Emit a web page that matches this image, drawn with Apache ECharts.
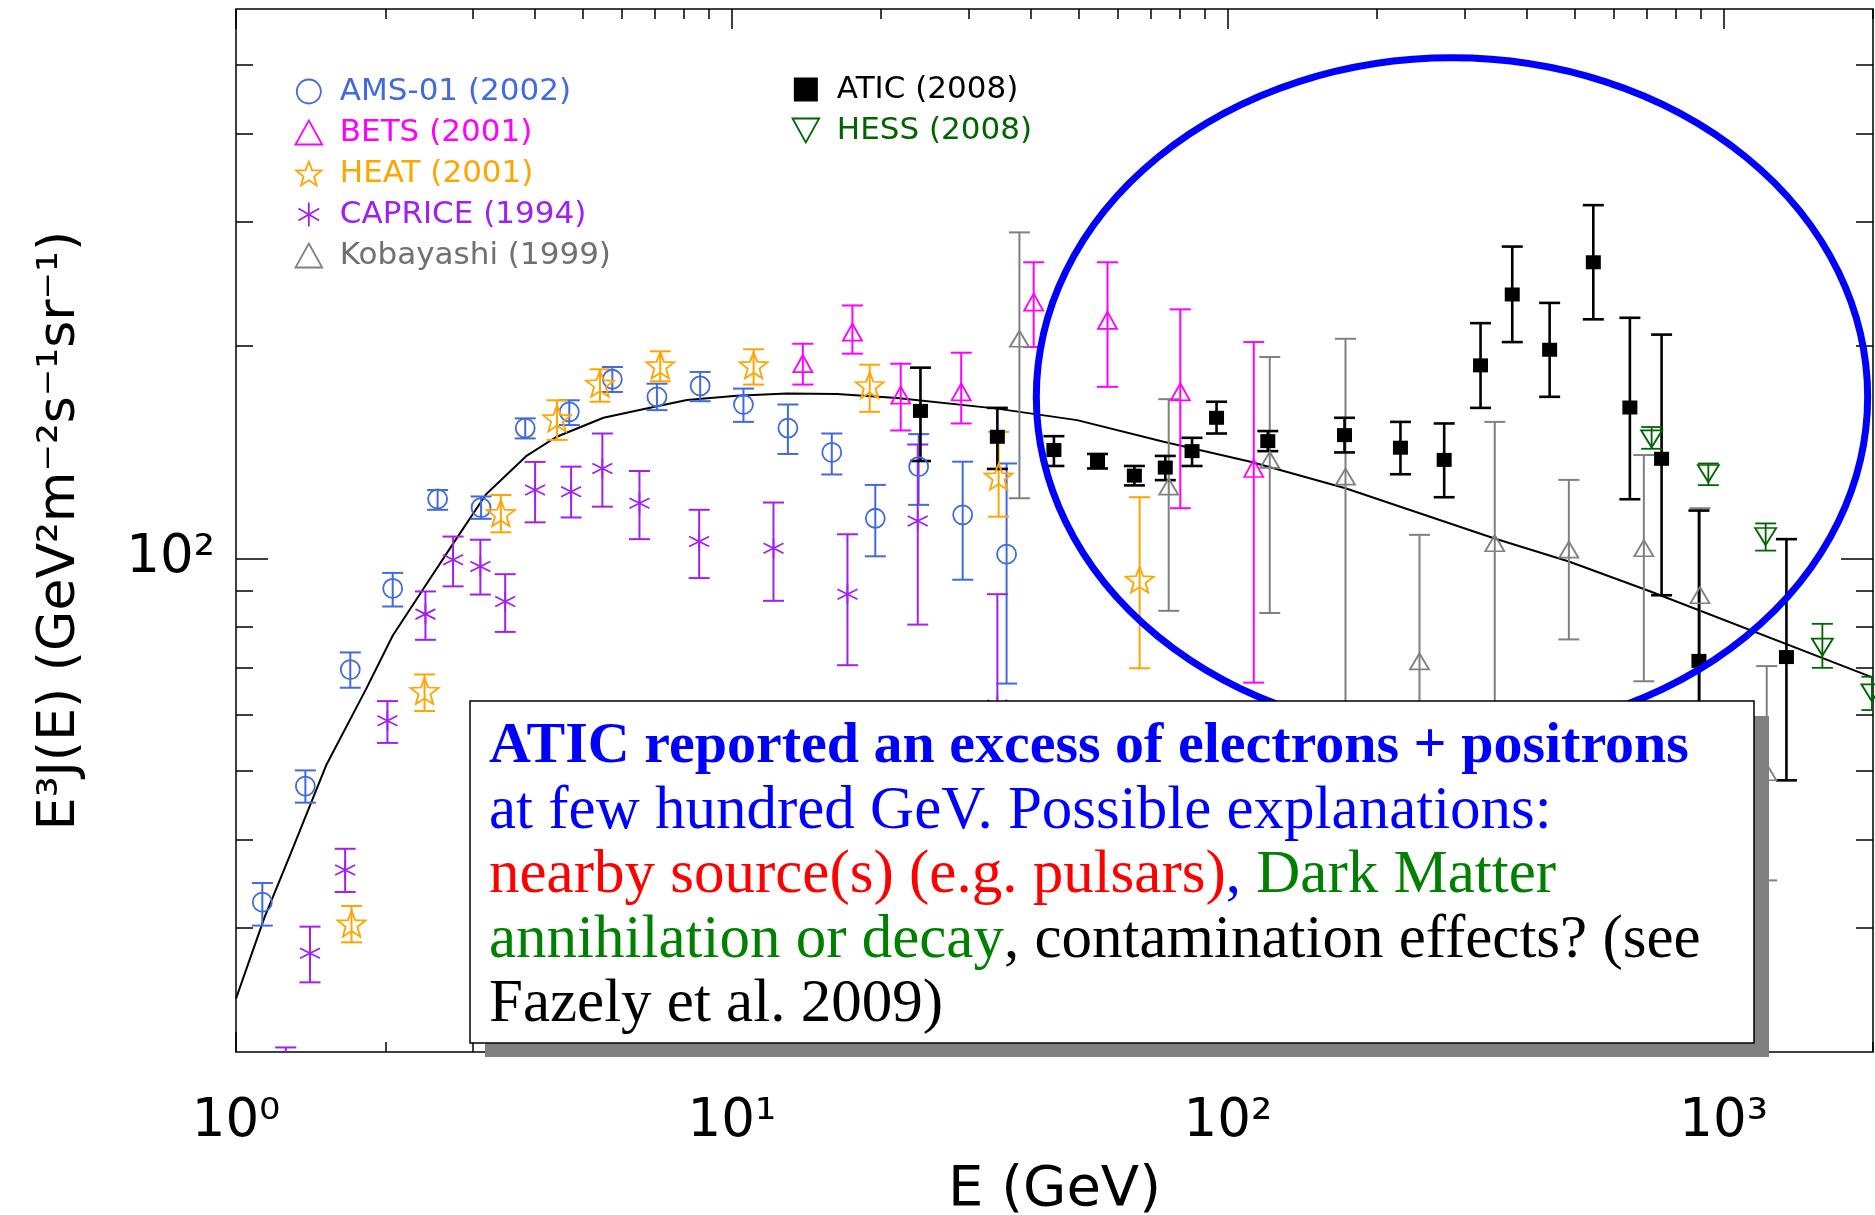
<!DOCTYPE html>
<html>
<head>
<meta charset="utf-8">
<title>Electron + positron spectrum</title>
<script src="https://cdn.jsdelivr.net/npm/echarts@6/dist/echarts.min.js"></script>
<style>
  html, body { margin: 0; padding: 0; background: #fff; }
  #chart { width: 1875px; height: 1215px; }
</style>
</head>
<body>
<div id="chart"></div>
<script>
// Each row: [E (GeV), E^3 J(E), lower error, upper error]
const AMS01 = [
  [1.13, 32.6, 30.2, 34.7],
  [1.38, 47.6, 45.1, 50.1],
  [1.70, 69.6, 65.6, 73.6],
  [2.07, 90.7, 85.5, 95.4],
  [2.55, 121.4, 117.2, 125.0],
  [3.12, 118.0, 113.8, 122.4],
  [3.83, 153.0, 147.9, 157.9],
  [4.70, 161.3, 154.5, 167.5],
  [5.74, 179.4, 172.1, 186.7],
  [7.06, 169.4, 162.2, 176.8],
  [8.63, 175.5, 167.0, 183.7],
  [10.55, 165.2, 156.1, 174.0],
  [12.97, 153.0, 140.6, 165.2],
  [15.9, 141.3, 131.5, 150.3],
  [19.46, 114.0, 100.7, 127.1],
  [23.8, 134.9, 119.1, 150.0],
  [29.2, 115.3, 93.3, 137.1],
  [35.8, 101.4, 66.5, 136.3]
];
const BETS = [
  [13.9, 188.8, 176.3, 201.4],
  [17.5, 209.2, 195.0, 228.2],
  [21.9, 170.3, 151.8, 188.7],
  [29.0, 172.2, 155.3, 195.6],
  [40.6, 230.7, 199.3, 262.7],
  [57.2, 217.4, 175.0, 262.7],
  [80.2, 172.2, 117.8, 225.3],
  [112.8, 134.1, 66.7, 202.5]
];
const HEAT = [
  [1.71, 30.4, 28.6, 32.2],
  [2.40, 64.9, 60.8, 68.5],
  [3.42, 115.9, 108.9, 123.0],
  [4.44, 157.9, 147.2, 167.5],
  [5.42, 176.8, 166.7, 185.3],
  [7.17, 187.7, 178.2, 196.5],
  [11.06, 187.7, 176.3, 197.8],
  [18.96, 175.9, 161.3, 188.1],
  [34.5, 130.6, 114.6, 151.1],
  [66.4, 93.3, 69.9, 122.1]
];
const CAPRICE = [
  [1.26, 17.0, 14.5, 20.3],
  [1.41, 27.6, 25.1, 30.1],
  [1.66, 36.2, 33.7, 38.8],
  [2.02, 58.9, 54.8, 62.8],
  [2.41, 83.4, 76.7, 89.8],
  [2.74, 99.6, 91.3, 107.4],
  [3.11, 97.4, 88.9, 106.3],
  [3.49, 86.9, 78.7, 95.0],
  [4.01, 125.0, 112.5, 137.0],
  [4.74, 124.3, 114.3, 134.9],
  [5.48, 134.1, 118.4, 150.3],
  [6.51, 119.7, 106.5, 133.0],
  [8.59, 105.7, 93.8, 117.2],
  [12.13, 103.4, 87.1, 120.0],
  [17.1, 89.0, 70.6, 108.2],
  [23.7, 113.0, 80.6, 145.0],
  [34.3, 62.0, 42.0, 89.0]
];
const KOBAYASHI = [
  [38.0, 204.7, 121.7, 289.6],
  [76.0, 126.4, 84.3, 168.1],
  [121.5, 137.9, 83.7, 192.9],
  [172.7, 130.6, 45.0, 204.7],
  [243.5, 71.5, 45.0, 108.0],
  [345.4, 105.1, 40.0, 156.1],
  [487.2, 102.9, 76.8, 129.2],
  [690.2, 103.4, 67.0, 140.1],
  [895.5, 88.7, 50.0, 117.8],
  [1221, 49.8, 35.0, 70.4]
];
const ATIC = [
  [24.0, 161.8, 137.4, 186.3],
  [34.3, 148.7, 133.9, 163.4],
  [44.6, 142.4, 135.2, 149.0],
  [54.6, 137.4, 134.1, 140.6],
  [64.8, 131.0, 126.9, 135.2],
  [74.8, 134.5, 129.1, 139.7],
  [84.7, 141.9, 135.2, 148.2],
  [94.9, 158.2, 150.3, 166.7],
  [120.4, 146.6, 141.9, 151.5],
  [171.9, 149.5, 141.3, 158.2],
  [222.9, 143.5, 131.6, 156.1],
  [273.1, 137.9, 122.1, 155.3],
  [323.3, 187.7, 163.4, 215.4],
  [374.6, 236.5, 202.5, 276.5],
  [445.6, 197.5, 169.4, 230.1],
  [545.8, 262.7, 218.1, 316.5],
  [646.8, 163.6, 121.3, 219.2],
  [749.4, 138.4, 88.7, 207.5],
  [891.3, 71.6, 45.0, 116.9],
  [1338, 72.5, 48.5, 106.5]
];
const HESS = [
  [715.5, 147.7, 143.0, 153.5],
  [931, 131.9, 127.0, 136.3],
  [1215, 107.4, 102.6, 112.1],
  [1581, 74.9, 70.0, 80.8],
  [1990, 64.5, 61.0, 68.0]
];
// Model spectrum: [E, E^3 J(E)]
const MODEL = [
  [1.0, 23.8], [1.141, 31.0], [1.281, 37.8], [1.519, 50.9], [1.829, 65.3],
  [2.071, 77.8], [2.380, 90.3], [2.736, 104.8], [3.194, 123.3], [3.846, 139.6],
  [4.422, 148.6], [5.508, 158.2], [6.948, 163.9], [8.115, 167.6], [10.23, 170.0],
  [12.91, 171.2], [16.29, 170.9], [21.52, 168.8], [34.24, 163.0], [49.66, 157.0],
  [74.25, 146.3], [111.1, 137.1], [172.7, 125.7], [343.9, 106.8], [487.2, 99.0],
  [712, 89.8], [2000, 67.8]
];
// Highlighted region: [E min, J min, E max, J max]
const EXCESS_REGION = [[41.1, 56.1, 1951, 511.7]];

const xMajorTicks = [1, 10, 100, 1000];
const xMinorTicks = [2, 3, 4, 5, 6, 7, 8, 9, 20, 30, 40, 50, 60, 70, 80, 90,
                     200, 300, 400, 500, 600, 700, 800, 900, 2000];
const yMajorTicks = [100];
const yMinorTicks = [30, 40, 50, 60, 70, 80, 90, 200, 300, 400, 500];

const SANS = 'DejaVu Sans';
const SERIF = 'Liberation Serif';
const SUP = { 0: '\u2070', 1: '\u00b9', 2: '\u00b2', 3: '\u00b3' };
const powerLabel = v => '10' + SUP[Math.round(Math.log10(v))];

const C = {
  ams: '#4169e1', bets: '#ff00ff', heat: '#ffa500', caprice: '#a020f0',
  koba: '#808080', atic: '#000000', hess: '#006400'
};

const STAR = 'path://M100,0 L124.7,66 L195.1,69.1 L139.9,113 L158.8,180.9 L100,142 L41.2,180.9 L60.1,113 L4.9,69.1 L75.3,66 Z';
const ASTERISK = 'path://M0,-10 L0,10 M-8.66,-5 L8.66,5 M-8.66,5 L8.66,-5';
const TRI_UP = 'path://M10,0 L20,18 L0,18 Z';
const TRI_DOWN = 'path://M0,0 L20,0 L10,18 Z';
const SQUARE = 'path://M0,0 L20,0 L20,20 L0,20 Z';

function errorBars(name, rows, color, lineWidth, capWidth) {
  return {
    type: 'custom', name, data: rows, clip: true, z: 3,
    encode: { x: 0, y: 1 },
    silent: true,
    renderItem(params, api) {
      const e = api.value(0);
      const lo = api.coord([e, api.value(2)]);
      const hi = api.coord([e, api.value(3)]);
      const h = capWidth / 2;
      const st = () => ({ stroke: color, lineWidth: lineWidth, fill: null });
      return {
        type: 'group',
        children: [
          { type: 'line', shape: { x1: lo[0], y1: lo[1], x2: hi[0], y2: hi[1] }, style: st() },
          { type: 'line', shape: { x1: lo[0] - h, y1: lo[1], x2: lo[0] + h, y2: lo[1] }, style: st() },
          { type: 'line', shape: { x1: hi[0] - h, y1: hi[1], x2: hi[0] + h, y2: hi[1] }, style: st() }
        ]
      };
    }
  };
}

function markers(name, rows, symbol, size, color, filled, rotate) {
  return {
    type: 'scatter', name, data: rows, clip: true, z: 4,
    encode: { x: 0, y: 1 },
    symbol, symbolSize: size, symbolRotate: rotate || 0,
    itemStyle: filled
      ? { color: color, borderWidth: 0, opacity: 1 }
      : { color: 'none', borderColor: color, borderWidth: 1.8, opacity: 1 },
    emphasis: { disabled: true },
    silent: true
  };
}

const tickStyle = { color: '#000', width: 1.5 };
function xAx(position, ticks, len, withLabel) {
  const ax = {
    type: 'log', logBase: 10, min: 1, max: 2000, position,
    axisLine: { show: false, onZero: false },
    splitLine: { show: false },
    axisTick: { show: true, inside: true, length: len, customValues: ticks, lineStyle: tickStyle },
    axisLabel: { show: false }
  };
  if (withLabel) {
    ax.axisLabel = {
      show: true, customValues: xMajorTicks, formatter: powerLabel,
      fontFamily: SANS, fontSize: 53, color: '#000', margin: 44
    };
    ax.name = 'E (GeV)';
    ax.nameLocation = 'middle';
    ax.nameGap = 110;
    ax.nameTextStyle = { fontFamily: SANS, fontSize: 56, color: '#000' };
  }
  return ax;
}
function yAx(position, ticks, len, withLabel) {
  const ax = {
    type: 'log', logBase: 10, min: 20, max: 600, position,
    axisLine: { show: false, onZero: false },
    splitLine: { show: false },
    axisTick: { show: true, inside: true, length: len, customValues: ticks, lineStyle: tickStyle },
    axisLabel: { show: false }
  };
  if (withLabel) {
    ax.axisLabel = {
      show: true, customValues: yMajorTicks, formatter: powerLabel,
      fontFamily: SANS, fontSize: 53, color: '#000', margin: 21
    };
    ax.name = 'E\u00b3J(E) (GeV\u00b2m\u207b\u00b2s\u207b\u00b9sr\u207b\u00b9)';
    ax.nameLocation = 'middle';
    ax.nameRotate = 90;
    ax.nameGap = 150;
    ax.nameTextStyle = { fontFamily: SANS, fontSize: 52, color: '#000' };
  }
  return ax;
}

const legendItem = (name, icon, color, filled, textColor) => ({
  name, icon,
  itemStyle: filled
    ? { color: color, borderWidth: 0, opacity: 1 }
    : { color: 'none', borderColor: color, borderWidth: 1.8, opacity: 1 },
  textStyle: { color: textColor || color }
});

const legendCommon = {
  orient: 'vertical', padding: 0, itemWidth: 52, itemHeight: 24, itemGap: 10,
  symbolKeepAspect: true, selectedMode: false,
  textStyle: { fontFamily: SANS, fontSize: 31 }
};

const option = {
  animation: false,
  backgroundColor: '#fff',
  grid: {
    left: 236, top: 9, width: 1637, height: 1043,
    show: true, borderColor: '#000', borderWidth: 1.5, backgroundColor: 'transparent',
    containLabel: false, outerBoundsMode: 'none'
  },
  xAxis: [
    xAx('bottom', xMajorTicks, 20, true),
    xAx('bottom', xMinorTicks, 10, false),
    xAx('top', xMajorTicks, 20, false),
    xAx('top', xMinorTicks, 10, false)
  ],
  yAxis: [
    yAx('left', yMajorTicks, 32, true),
    yAx('left', yMinorTicks, 17, false),
    yAx('right', yMajorTicks, 32, false),
    yAx('right', yMinorTicks, 17, false)
  ],
  legend: [
    Object.assign({}, legendCommon, {
      left: 293, top: 76,
      data: [
        legendItem('AMS-01 (2002)', 'circle', C.ams),
        legendItem('BETS (2001)', TRI_UP, C.bets),
        legendItem('HEAT (2001)', STAR, C.heat),
        legendItem('CAPRICE (1994)', ASTERISK, C.caprice),
        legendItem('Kobayashi (1999)', TRI_UP, C.koba, false, '#707070')
      ]
    }),
    Object.assign({}, legendCommon, {
      left: 790, top: 74,
      data: [
        legendItem('ATIC (2008)', SQUARE, C.atic, true),
        legendItem('HESS (2008)', TRI_DOWN, C.hess)
      ]
    })
  ],
  series: [
    {
      type: 'line', name: 'model', data: MODEL, symbol: 'none', z: 2,
      lineStyle: { color: '#000', width: 2 }, silent: true, clip: true
    },
    markers('AMS-01 (2002)', AMS01, 'circle', 19, C.ams),
    errorBars('AMS-01 (2002)', AMS01, C.ams, 2, 21),
    markers('BETS (2001)', BETS, 'triangle', [19, 17], C.bets),
    errorBars('BETS (2001)', BETS, C.bets, 2, 21),
    markers('HEAT (2001)', HEAT, STAR, [28, 26], C.heat),
    errorBars('HEAT (2001)', HEAT, C.heat, 2, 21),
    markers('CAPRICE (1994)', CAPRICE, ASTERISK, [20, 20], C.caprice),
    errorBars('CAPRICE (1994)', CAPRICE, C.caprice, 2, 21),
    markers('Kobayashi (1999)', KOBAYASHI, 'triangle', [19, 16], C.koba),
    errorBars('Kobayashi (1999)', KOBAYASHI, C.koba, 2, 21),
    markers('ATIC (2008)', ATIC, 'rect', [15, 14], C.atic, true),
    errorBars('ATIC (2008)', ATIC, C.atic, 2.6, 21),
    markers('HESS (2008)', HESS, 'triangle', [21, 17], C.hess, false, 180),
    errorBars('HESS (2008)', HESS, C.hess, 1.8, 21),
    {
      type: 'custom', name: 'excess region', data: EXCESS_REGION, clip: true, z: 6,
      encode: { x: [0, 2], y: [1, 3] }, silent: true,
      renderItem(params, api) {
        const p1 = api.coord([api.value(0), api.value(1)]);
        const p2 = api.coord([api.value(2), api.value(3)]);
        const cx = (p1[0] + p2[0]) / 2, cy = (p1[1] + p2[1]) / 2;
        const rx = Math.abs(p2[0] - p1[0]) / 2, ry = Math.abs(p1[1] - p2[1]) / 2;
        const d = 'M' + (cx - rx) + ',' + cy +
          ' A' + rx + ',' + ry + ' 0 1 0 ' + (cx + rx) + ',' + cy +
          ' A' + rx + ',' + ry + ' 0 1 0 ' + (cx - rx) + ',' + cy + ' Z';
        return {
          type: 'path', shape: { pathData: d },
          style: { fill: null, stroke: '#0000ff', lineWidth: 7 }
        };
      }
    }
  ],
  graphic: [
    {
      type: 'rect', z: 100, silent: true,
      shape: { x: 485, y: 716, width: 1284, height: 341 },
      style: { fill: '#808080' }
    },
    {
      type: 'rect', z: 101, silent: true,
      shape: { x: 470, y: 701, width: 1284, height: 342 },
      style: { fill: '#fff', stroke: '#000', lineWidth: 1.5 }
    },
    {
      type: 'text', z: 102, silent: true, x: 489, y: 715,
      style: {
        text: '{b|ATIC reported an excess of electrons + positrons}\n' +
              '{n|at few hundred GeV. Possible explanations:}\n' +
              '{r|nearby source(s) (e.g. pulsars)}{n|, }{g|Dark Matter}\n' +
              '{g|annihilation or decay}{k|, contamination effects? (see}\n' +
              '{k|Fazely et al. 2009)}',
        verticalAlign: 'top', align: 'left',
        rich: {
          b: { fontFamily: SERIF, fontWeight: 'bold', fontSize: 58, fill: '#0000ff', lineHeight: 64.5 },
          n: { fontFamily: SERIF, fontSize: 61, fill: '#0000ff', lineHeight: 64.5 },
          r: { fontFamily: SERIF, fontSize: 61, fill: '#ff0000', lineHeight: 64.5 },
          g: { fontFamily: SERIF, fontSize: 61, fill: '#008000', lineHeight: 64.5 },
          k: { fontFamily: SERIF, fontSize: 61, fill: '#000000', lineHeight: 64.5 }
        }
      }
    }
  ]
};

const chart = echarts.init(document.getElementById('chart'), null, { renderer: 'canvas' });
chart.setOption(option);
</script>
</body>
</html>
